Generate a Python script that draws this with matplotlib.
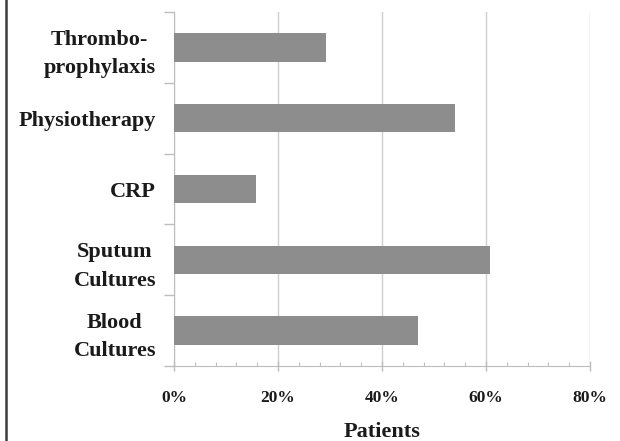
import numpy as np
import matplotlib
matplotlib.use("Agg")
import matplotlib.pyplot as plt
from matplotlib.ticker import MultipleLocator, FuncFormatter
from matplotlib.lines import Line2D

# data, bottom to top
categories = ["Blood\nCultures", "Sputum\nCultures", "CRP", "Physiotherapy", "Thrombo-\nprophylaxis"]
patients_pct = [47.0, 60.8, 15.8, 54.1, 29.2]

plt.rcParams['font.family'] = ['Liberation Serif', 'DejaVu Serif']
plt.rcParams['font.weight'] = 'bold'
plt.rcParams['axes.labelweight'] = 'bold'

fig = plt.figure(figsize=(6.2, 4.41), dpi=100)
ax = fig.add_axes([0.2806, 0.170, 0.6710, 0.8028])

ypos = np.arange(len(categories))
ax.barh(ypos, patients_pct, height=0.4, color='#8d8d8d', zorder=3)

ax.set_xlim(0, 80)
ax.set_ylim(-0.5, len(categories) - 0.5)

# x axis
ax.xaxis.set_major_locator(MultipleLocator(20))
ax.xaxis.set_minor_locator(MultipleLocator(4))
ax.xaxis.set_major_formatter(FuncFormatter(lambda v, p: f"{v:.0f}%"))
ax.tick_params(axis='x', which='major', direction='inout', length=7, width=1,
               color='#bdbdbd', pad=14, labelsize=12.5, labelcolor='#1a1a1a')
ax.tick_params(axis='x', which='minor', direction='in', length=3, width=0.8,
               color='#bdbdbd')
ax.grid(axis='x', which='major', color='#cfcfcf', linewidth=1, zorder=0)

# y axis: labels at centers, ticks at boundaries
ax.set_yticks(ypos)
ax.set_yticklabels(categories, multialignment='center', linespacing=1.55)
ax.set_yticks(np.arange(-0.5, len(categories), 1), minor=True)
ax.tick_params(axis='y', which='major', length=0, pad=13, labelsize=16,
               labelcolor='#1a1a1a')
ax.tick_params(axis='y', which='minor', direction='out', length=7, width=1,
               color='#bdbdbd')

for s in ['top', 'right']:
    ax.spines[s].set_visible(False)
ax.spines['left'].set_color('#bdbdbd')
ax.spines['bottom'].set_color('#bdbdbd')

ax.set_xlabel("Patients", fontsize=16, color='#1a1a1a', labelpad=11)

# frame line on the left edge of the image
fig.add_artist(Line2D([5.5 / 620, 5.5 / 620], [0, 1], transform=fig.transFigure,
                      color='#3c3c3c', linewidth=1.8))

fig.savefig("out.png", dpi=100)
